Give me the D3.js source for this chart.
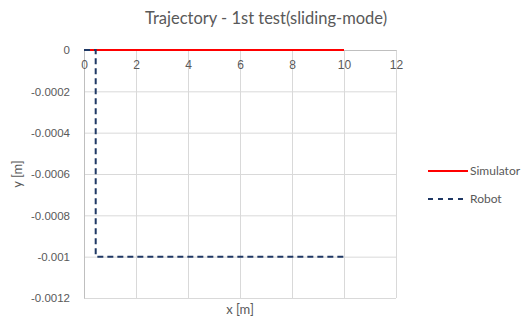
<!DOCTYPE html>
<html>
<head>
<meta charset="utf-8">
<script src="https://cdn.jsdelivr.net/npm/d3@7"></script>
<style>
  body { margin: 0; background: #fff; }
  svg { display: block; font-family: Lato, "Open Sans", sans-serif; }
</style>
</head>
<body>
<svg id="chart" width="527" height="320"></svg>
<script>
// Trajectory series: x and y positions in metres
const simulatorX = [0, 10];
const simulatorY = [0, 0];
const robotX = [0, 0.45, 0.45, 10];
const robotY = [0, 0, -0.001, -0.001];

const xTicks = [0, 2, 4, 6, 8, 10, 12];
const yTicks = [0, -0.0002, -0.0004, -0.0006, -0.0008, -0.001, -0.0012];
const yTickLabels = ["0", "-0.0002", "-0.0004", "-0.0006", "-0.0008", "-0.001", "-0.0012"];
const seriesNames = ["Simulator", "Robot"];

const svg = d3.select("#chart");
const plot = { left: 84, right: 396, top: 50, bottom: 298 };

const x = d3.scaleLinear().domain([0, 12]).range([plot.left, plot.right]);
const y = d3.scaleLinear().domain([0, -0.0012]).range([plot.top, plot.bottom]);

const gridColor = "#d9d9d9";
const textColor = "#595959";

// Gridlines
svg.append("g")
  .attr("transform", `translate(0,${plot.bottom})`)
  .call(d3.axisBottom(x).tickValues(xTicks).tickSize(-(plot.bottom - plot.top)).tickFormat(""))
  .call(g => g.select(".domain").remove())
  .selectAll("line").attr("stroke", gridColor);

svg.append("g")
  .attr("transform", `translate(${plot.right},0)`)
  .call(d3.axisLeft(y).tickValues(yTicks).tickSize(plot.right - plot.left).tickFormat(""))
  .call(g => g.select(".domain").remove())
  .selectAll("line").attr("stroke", gridColor);

// Y axis (left) with labels
const yAxis = svg.append("g")
  .attr("transform", `translate(${plot.left},0)`)
  .call(d3.axisLeft(y).tickValues(yTicks).tickSize(0).tickPadding(14)
    .tickFormat((d, i) => yTickLabels[i]));
yAxis.select(".domain").attr("stroke", "#bfbfbf");
yAxis.selectAll("text").attr("fill", textColor).attr("font-size", 11.5);

// X axis crossing at y = 0, labels below the line
const xAxis = svg.append("g")
  .attr("transform", `translate(0,${y(0)})`)
  .call(d3.axisBottom(x).tickValues(xTicks).tickSize(0).tickPadding(10).tickFormat(d3.format("d")));
xAxis.select(".domain").attr("stroke", "#bfbfbf");
xAxis.selectAll("text").attr("fill", textColor).attr("font-size", 12);

// Series lines
const line = d3.line().x(d => x(d[0])).y(d => y(d[1]));

svg.append("path")
  .datum(simulatorX.map((v, i) => [v, simulatorY[i]]))
  .attr("d", line)
  .attr("fill", "none")
  .attr("stroke", "#ff0000")
  .attr("stroke-width", 2);

svg.append("path")
  .datum(robotX.map((v, i) => [v, robotY[i]]))
  .attr("d", line)
  .attr("fill", "none")
  .attr("stroke", "#1f3864")
  .attr("stroke-width", 2)
  .attr("stroke-dasharray", "6,4");

// Title
svg.append("text")
  .attr("x", 266).attr("y", 24)
  .attr("text-anchor", "middle")
  .attr("fill", textColor)
  .attr("font-size", 16.5)
  .text("Trajectory - 1st test(sliding-mode)");

// Axis titles
svg.append("text")
  .attr("x", (plot.left + plot.right) / 2).attr("y", 314)
  .attr("text-anchor", "middle")
  .attr("fill", textColor)
  .attr("font-size", 13)
  .text("x [m]");

svg.append("text")
  .attr("transform", `translate(22,${(plot.top + plot.bottom) / 2}) rotate(-90)`)
  .attr("text-anchor", "middle")
  .attr("fill", textColor)
  .attr("font-size", 13)
  .text("y [m]");

// Legend
const legendStyles = [
  { color: "#ff0000", dash: null },
  { color: "#1f3864", dash: "5,5" }
];
const legend = svg.append("g");
seriesNames.forEach((name, i) => {
  const ly = 171 + i * 28;
  legend.append("line")
    .attr("x1", 428).attr("x2", 468).attr("y1", ly).attr("y2", ly)
    .attr("stroke", legendStyles[i].color)
    .attr("stroke-width", 2)
    .attr("stroke-dasharray", legendStyles[i].dash);
  legend.append("text")
    .attr("x", 470).attr("y", ly + 4)
    .attr("fill", textColor)
    .attr("font-size", 12)
    .text(name);
});
</script>
</body>
</html>
